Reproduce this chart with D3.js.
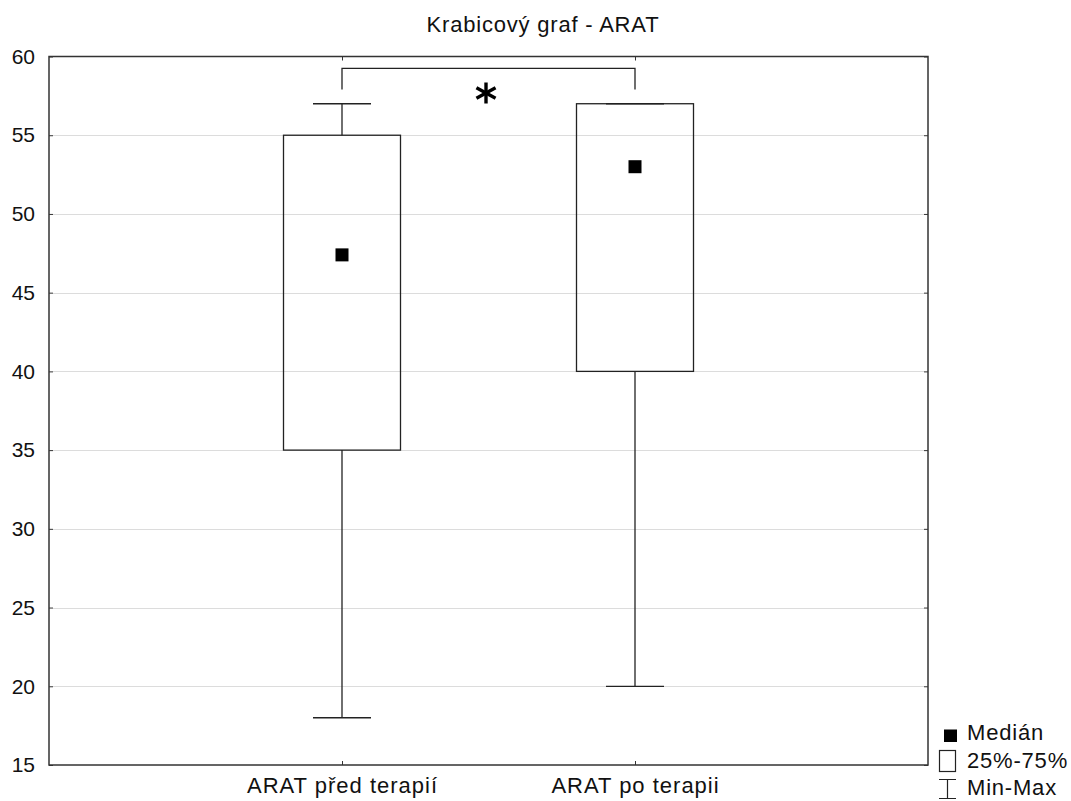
<!DOCTYPE html>
<html>
<head>
<meta charset="utf-8">
<script src="https://cdn.jsdelivr.net/npm/d3@7"></script>
<style>
  body { margin: 0; background: #fff; }
  svg { display: block; font-family: "Liberation Sans", Arial, sans-serif; }
</style>
</head>
<body>
<svg id="chart" width="1071" height="801"></svg>
<script>
// data
const categories = ["ARAT před terapií", "ARAT po terapii"];
const mins = [18, 20];
const q1s = [35, 40];
const medians = [47.4, 53];
const q3s = [55, 57];
const maxs = [57, 57];
const yTicks = [15, 20, 25, 30, 35, 40, 45, 50, 55, 60];
const legendLabels = ["Medián", "25%-75%", "Min-Max"];
const sigLevel = 59.25;
const sigDrop = 57.9;

const svg = d3.select("#chart");
const plotL = 49, plotR = 928, plotT = 56.5, plotB = 765;
const FONT = "Liberation Sans, Arial, sans-serif";

const x = d3.scalePoint().domain(categories).range([plotL, plotR]).padding(1);
const y = d3.scaleLinear().domain([15, 60]).range([plotB, plotT]);

// title
svg.append("text")
  .attr("x", 543).attr("y", 31.5)
  .attr("text-anchor", "middle")
  .attr("font-size", 22)
  .attr("letter-spacing", 0.8)
  .attr("fill", "#111")
  .text("Krabicový graf - ARAT");

// gridlines
svg.append("g")
  .selectAll("line")
  .data(yTicks.filter(d => d > 15 && d < 60))
  .join("line")
  .attr("x1", plotL + 4).attr("x2", plotR - 4)
  .attr("y1", d => Math.round(y(d)) + 0.5).attr("y2", d => Math.round(y(d)) + 0.5)
  .attr("stroke", "#dcdcdc").attr("stroke-width", 1);

// y axis
const gy = svg.append("g").attr("transform", `translate(${plotL},0)`)
  .call(d3.axisLeft(y).tickValues(yTicks).tickSize(-4).tickPadding(14));
gy.select(".domain").remove();
gy.selectAll("text").attr("font-size", 21).attr("fill", "#111").attr("font-family", FONT);
gy.selectAll("line").attr("stroke", "#333");

// right side ticks, inward
const gyr = svg.append("g").attr("transform", `translate(${plotR},0)`)
  .call(d3.axisRight(y).tickValues(yTicks).tickSize(-4).tickFormat(""));
gyr.select(".domain").remove();
gyr.selectAll("line").attr("stroke", "#333");

// x axis
const gx = svg.append("g").attr("transform", `translate(0,${plotB})`)
  .call(d3.axisBottom(x).tickSize(-4).tickPadding(0));
gx.select(".domain").remove();
gx.selectAll("text")
  .attr("y", 28).attr("dy", null)
  .attr("font-size", 22).attr("letter-spacing", 1)
  .attr("fill", "#111").attr("font-family", FONT);
gx.selectAll("line").attr("stroke", "#333");

const gxt = svg.append("g").attr("transform", `translate(0,${plotT})`)
  .call(d3.axisTop(x).tickSize(-4).tickFormat(""));
gxt.select(".domain").remove();
gxt.selectAll("line").attr("stroke", "#333");

// frame
svg.append("rect")
  .attr("x", plotL).attr("y", plotT)
  .attr("width", plotR - plotL).attr("height", plotB - plotT)
  .attr("fill", "none").attr("stroke", "#333").attr("stroke-width", 1.5);

// boxes
const boxW = 117, capW = 58, medSize = 13;
const boxes = svg.append("g").attr("stroke", "#222").attr("stroke-width", 1.3);

d3.range(categories.length).forEach(i => {
  const cx = x(categories[i]);
  boxes.append("line")
    .attr("x1", cx).attr("x2", cx)
    .attr("y1", y(maxs[i])).attr("y2", y(q3s[i]));
  boxes.append("line")
    .attr("x1", cx).attr("x2", cx)
    .attr("y1", y(q1s[i])).attr("y2", y(mins[i]));
  boxes.append("line")
    .attr("x1", cx - capW / 2).attr("x2", cx + capW / 2)
    .attr("y1", y(maxs[i])).attr("y2", y(maxs[i]));
  boxes.append("line")
    .attr("x1", cx - capW / 2).attr("x2", cx + capW / 2)
    .attr("y1", y(mins[i])).attr("y2", y(mins[i]));
  boxes.append("rect")
    .attr("x", cx - boxW / 2).attr("width", boxW)
    .attr("y", y(q3s[i])).attr("height", y(q1s[i]) - y(q3s[i]))
    .attr("fill", "none");
  svg.append("rect")
    .attr("x", cx - medSize / 2).attr("y", y(medians[i]) - medSize / 2)
    .attr("width", medSize).attr("height", medSize)
    .attr("fill", "#000");
});

// significance bracket + asterisk
const x0 = x(categories[0]), x1 = x(categories[1]);
svg.append("path")
  .attr("d", `M${x0},${y(sigDrop)}V${y(sigLevel)}H${x1}V${y(sigDrop)}`)
  .attr("fill", "none").attr("stroke", "#222").attr("stroke-width", 1.3);

const ax = 486, ay = 93, arm = 10.5;
svg.append("g")
  .attr("stroke", "#000").attr("stroke-width", 3.4).attr("stroke-linecap", "butt")
  .selectAll("line")
  .data([90, 30, -30])
  .join("line")
  .attr("x1", a => ax - arm * 1.05 * Math.cos(a * Math.PI / 180))
  .attr("y1", a => ay - arm * Math.sin(a * Math.PI / 180))
  .attr("x2", a => ax + arm * 1.05 * Math.cos(a * Math.PI / 180))
  .attr("y2", a => ay + arm * Math.sin(a * Math.PI / 180));

// legend
const lg = svg.append("g");
lg.append("rect").attr("x", 944).attr("y", 729.5).attr("width", 13).attr("height", 12.5).attr("fill", "#000");
lg.append("rect").attr("x", 939.5).attr("y", 750.5).attr("width", 16).attr("height", 21)
  .attr("fill", "none").attr("stroke", "#222").attr("stroke-width", 1.2);
lg.append("path").attr("d", "M939,779.5H956M947.5,779.5V798.5M939,798.5H956")
  .attr("fill", "none").attr("stroke", "#222").attr("stroke-width", 1.2);
lg.selectAll("text")
  .data(legendLabels)
  .join("text")
  .attr("x", 967)
  .attr("y", (d, i) => 740 + i * 27.5)
  .attr("font-size", 22)
  .attr("letter-spacing", 0.8)
  .attr("fill", "#111")
  .text(d => d);
</script>
</body>
</html>
